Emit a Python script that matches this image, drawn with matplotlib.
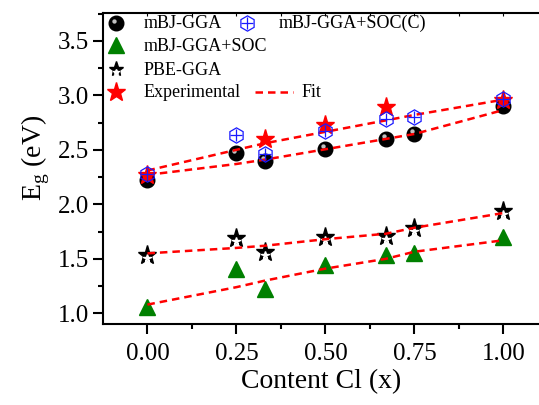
import matplotlib

matplotlib.use("Agg")
import matplotlib.pyplot as plt
import matplotlib.transforms as mtransforms
from matplotlib.ticker import MultipleLocator

plt.rcParams["font.family"] = ["Liberation Serif", "DejaVu Serif"]
plt.rcParams["mathtext.fontset"] = "custom"
plt.rcParams["mathtext.rm"] = "Liberation Serif"

# Cl content
x = [0.0, 0.25, 0.33, 0.5, 0.67, 0.75, 1.0]

mbj_gga = [2.22, 2.47, 2.40, 2.51, 2.60, 2.645, 2.90]
mbj_soc = [1.06, 1.41, 1.22, 1.44, 1.535, 1.55, 1.70]
pbe_gga = [1.535, 1.69, 1.56, 1.70, 1.71, 1.785, 1.94]
mbj_soc_c = [2.28, 2.64, 2.46, 2.67, 2.78, 2.80, 2.97]

x_exp = [0.0, 0.33, 0.5, 0.67, 1.0]
experimental = [2.27, 2.60, 2.73, 2.89, 2.96]

# fit curves, read at the same x values
fit_upper = [2.31, 2.50, 2.56, 2.665, 2.77, 2.82, 2.96]
fit_mbj = [2.27, 2.37, 2.41, 2.505, 2.60, 2.645, 2.865]
fit_pbe = [1.55, 1.60, 1.62, 1.68, 1.73, 1.785, 1.92]
fit_soc = [1.08, 1.24, 1.30, 1.41, 1.50, 1.565, 1.67]

W, H = 539, 405
fig = plt.figure(figsize=(W / 100, H / 100), dpi=100)
ax = fig.add_axes([103.3 / W, 1 - 324 / H, 1 - 103.3 / W, (324 - 13) / H])

FIT_STYLE = dict(color="red", lw=1.8, ls=(0, (3, 2)), zorder=5)


def sphere(xs, ys, ms=10.5, trans=None, **kw):
    t = trans if trans is not None else ax.transData
    ax.plot(xs, ys, "o", ms=ms, color="black", mec="black", ls="none", transform=t, zorder=3, **kw)
    t2 = t + mtransforms.ScaledTranslation(-1.6 / 72, 1.8 / 72, fig.dpi_scale_trans)
    ax.plot(xs, ys, "o", ms=ms * 0.3, color="#c0c0c0", mec="none", ls="none", transform=t2, zorder=3, **kw)


def pbe_star(xs, ys, ms=14, trans=None, **kw):
    t = trans if trans is not None else ax.transData
    ax.plot(xs, ys, "*", ms=ms, color="black", mec="black", ls="none", transform=t, zorder=4, **kw)
    t2 = t + mtransforms.ScaledTranslation(0, -2.2 / 72, fig.dpi_scale_trans)
    ax.plot(xs, ys, "*", ms=ms * 0.38, color="white", mec="white", ls="none", transform=t2, zorder=4, **kw)


def hexcross(xs, ys, ms=11, trans=None, **kw):
    t = trans if trans is not None else ax.transData
    ax.plot(xs, ys, "h", ms=ms, mfc="none", mec="#1a1aff", mew=0.9, ls="none", transform=t, zorder=6, **kw)
    ax.plot(xs, ys, "+", ms=ms * 0.85, mec="#1a1aff", mew=0.9, ls="none", transform=t, zorder=6, **kw)


sphere(x, mbj_gga)
ax.plot(x, mbj_soc, "^", ms=12, color="green", mec="green", ls="none", zorder=3)
pbe_star(x, pbe_gga)
ax.plot(x_exp, experimental, "*", ms=14, color="red", mec="red", ls="none", zorder=4)
hexcross(x, mbj_soc_c)

for fy in (fit_upper, fit_mbj, fit_pbe, fit_soc):
    ax.plot(x, fy, **FIT_STYLE)

ax.set_xlim(-0.124, 1.10)
ax.set_ylim(0.902, 3.755)
ax.xaxis.set_major_locator(MultipleLocator(0.25))
ax.xaxis.set_minor_locator(MultipleLocator(0.125))
ax.yaxis.set_major_locator(MultipleLocator(0.5))
ax.yaxis.set_minor_locator(MultipleLocator(0.25))
ax.xaxis.set_major_formatter(plt.FormatStrFormatter("%.2f"))
ax.yaxis.set_major_formatter(plt.FormatStrFormatter("%.1f"))

ax.spines["right"].set_visible(False)
for s in ("left", "bottom", "top"):
    ax.spines[s].set_linewidth(1.5)

ax.tick_params(axis="both", which="major", direction="out", length=7, width=1.5,
               labelsize=18, pad=3.5)
ax.tick_params(axis="both", which="minor", direction="out", length=3.8, width=1.5)
ax.tick_params(axis="x", which="both", top=True)
ax.tick_params(axis="x", which="major", pad=7)

ax.set_xlabel("Content Cl (x)", fontsize=20)
ax.set_ylabel(r"E$_\mathregular{g}$ (eV)", fontsize=20)
ax.xaxis.set_label_coords(0.5, -0.145)
ax.yaxis.set_label_coords(-0.118, 0.534)

# top ticks drawn inward and very short, thin
for t in ax.xaxis.get_major_ticks() + ax.xaxis.get_minor_ticks():
    t.tick2line.set_marker(3)
    t.tick2line.set_markersize(1.8)
    t.tick2line.set_markeredgewidth(0.8)
    t.tick2line.set_color("#666666")


# legend, placed in pixel coordinates
def px(xp, yp):
    return xp / W, 1 - yp / H


ft = fig.transFigure
lg_fs = 13
marker_rows = [23, 45, 69, 92]
base_rows = [28.3, 50.7, 75, 97.3]
mx, tx = 116, 144

sphere([px(mx, marker_rows[0])[0]], [px(mx, marker_rows[0])[1]], ms=10.5, trans=ft, clip_on=False)
ax.plot([px(mx, marker_rows[1])[0]], [px(mx, marker_rows[1])[1]], "^", ms=12, color="green",
        transform=ft, clip_on=False, zorder=3)
pbe_star([px(mx, marker_rows[2])[0]], [px(mx, marker_rows[2])[1]], ms=11, trans=ft, clip_on=False)
ax.plot([px(mx, marker_rows[3])[0]], [px(mx, marker_rows[3])[1]], "*", ms=14, color="red",
        transform=ft, clip_on=False, zorder=4)
hexcross([px(247, marker_rows[0])[0]], [px(247, marker_rows[0])[1]], ms=11, trans=ft, clip_on=False)
ax.plot([px(255, marker_rows[3])[0], px(293, marker_rows[3])[0]], [px(255, marker_rows[3])[1]] * 2,
        transform=ft, clip_on=False, **FIT_STYLE)

labels = ["mBJ-GGA", "mBJ-GGA+SOC", "PBE-GGA", "Experimental"]
for lab, r in zip(labels, base_rows):
    fig.text(*px(tx, r), lab, fontsize=lg_fs, va="baseline", ha="left")
fig.text(*px(279, base_rows[0]), "mBJ-GGA+SOC(C)", fontsize=lg_fs, va="baseline", ha="left")
fig.text(*px(302, base_rows[3]), "Fit", fontsize=lg_fs, va="baseline", ha="left")

fig.savefig("out.png", dpi=100)
